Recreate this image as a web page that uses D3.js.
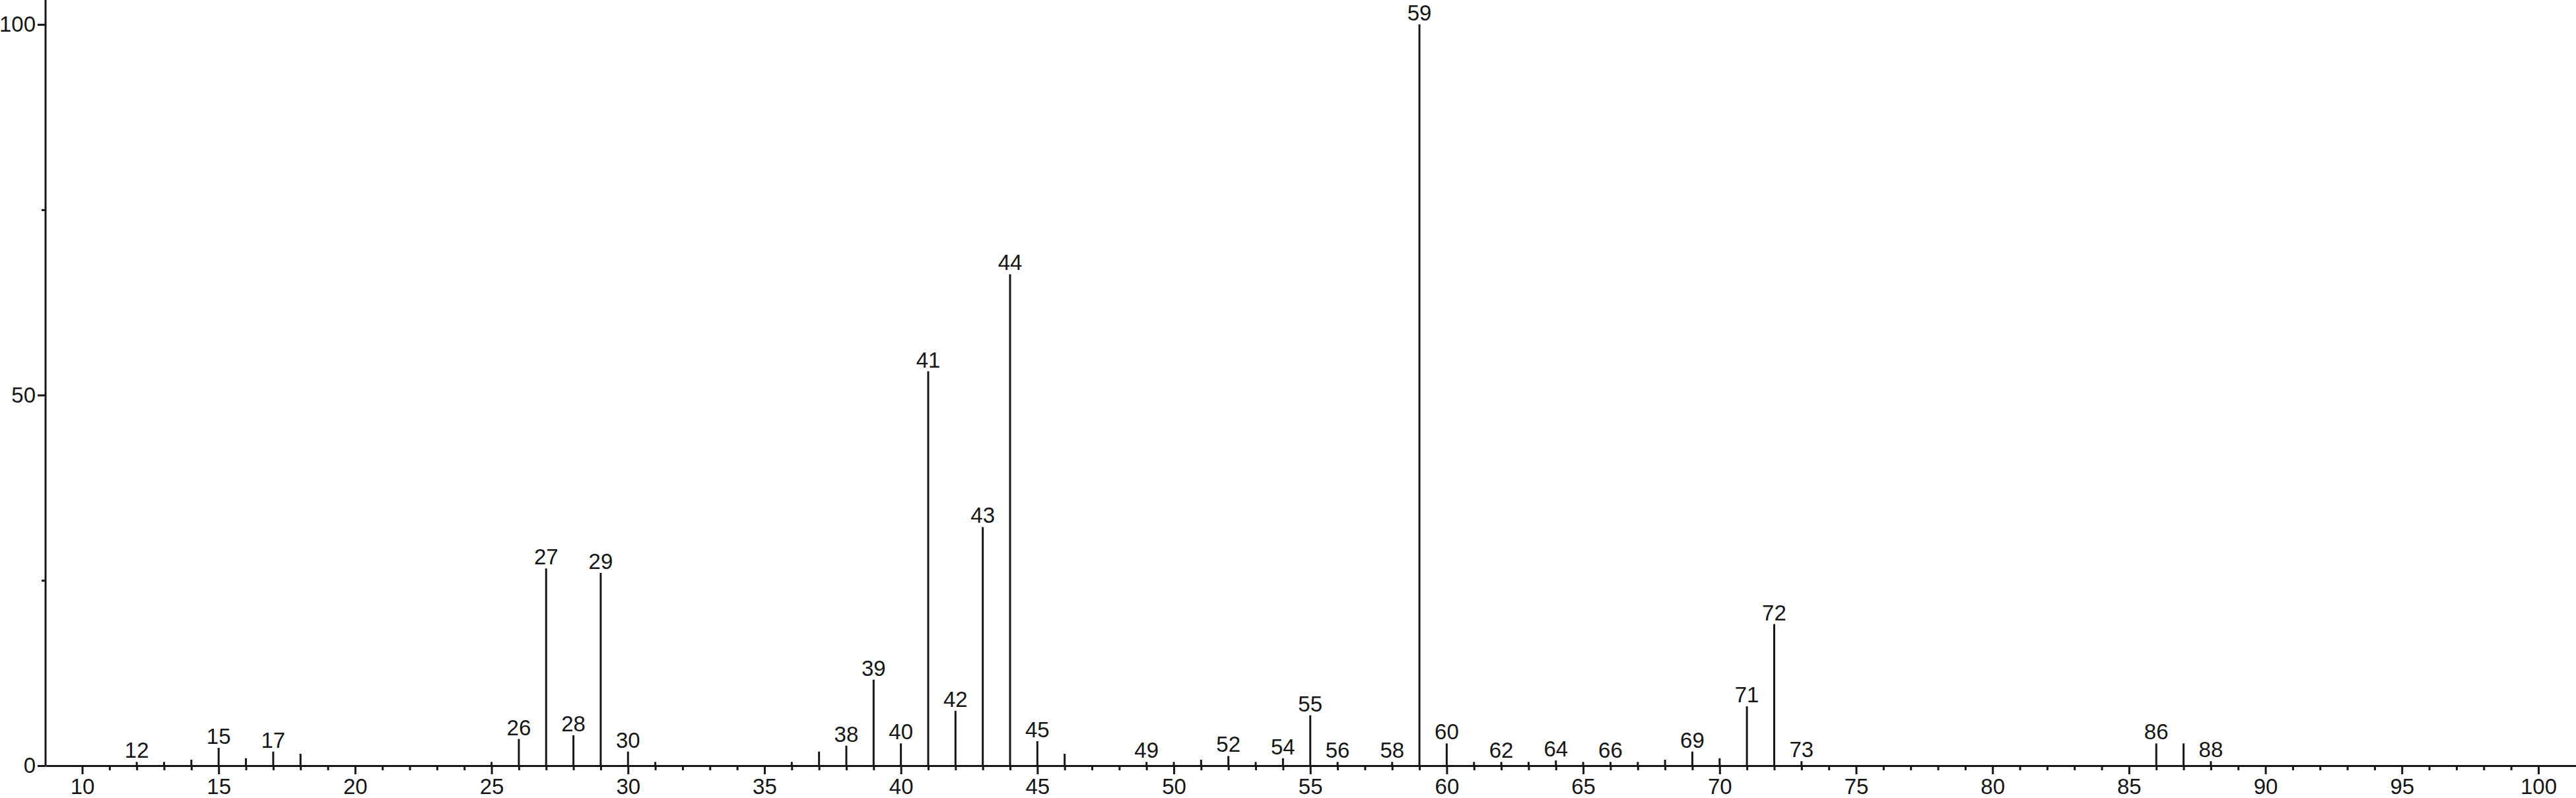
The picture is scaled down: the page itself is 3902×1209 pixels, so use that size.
<!DOCTYPE html>
<html>
<head>
<meta charset="utf-8">
<script src="https://cdn.jsdelivr.net/npm/d3@7"></script>
<style>
  html, body { margin: 0; padding: 0; background: #fff; }
  svg { display: block; }
</style>
</head>
<body>
<svg id="chart" width="3902" height="1209"></svg>
<script>
// m/z values of the peaks
const mz = [12, 13, 14, 15, 16, 17, 18, 25, 26, 27, 28, 29, 30, 31, 36, 37, 38, 39, 40, 41, 42, 43, 44, 45, 46,
            49, 50, 51, 52, 53, 54, 55, 56, 58, 59, 60, 61, 62, 63, 64, 65, 66, 67, 68, 69, 70, 71, 72, 73, 86, 87, 88];
// relative intensities (%)
const intensity = [0.5, 0.5, 0.8, 2.4, 1.0, 1.9, 1.6, 0.5, 3.6, 26.6, 4.1, 26.0, 1.9, 0.5, 0.5, 1.9, 2.7, 11.6, 3.0, 53.2, 7.4, 32.2, 66.3, 3.3, 1.6,
                   0.5, 0.5, 0.8, 1.3, 0.5, 1.0, 6.8, 0.5, 0.5, 100, 3.0, 0.5, 0.5, 0.5, 0.7, 0.5, 0.5, 0.5, 0.8, 1.9, 1.0, 8.0, 19.1, 0.6, 3.0, 3.0, 0.6];
// peaks that carry a text label
const labeledMz = [12, 15, 17, 26, 27, 28, 29, 30, 38, 39, 40, 41, 42, 43, 44, 45, 49, 52, 54, 55, 56, 58, 59, 60,
                   62, 64, 66, 69, 71, 72, 73, 86, 88];
// axis ticks
const xTickValues = d3.range(10, 101);
const xMajorStep = 5;
const yTickValues = [0, 25, 50, 75, 100];
const yTickLabels = ["0", "", "50", "", "100"];

const W = 3902, H = 1209;
const ink = "#161616";
const font = "'Liberation Sans', Arial, Helvetica, sans-serif";
const fontSize = 33;

const svg = d3.select("#chart");
svg.append("rect").attr("width", W).attr("height", H).attr("fill", "#fff");

const x = d3.scaleLinear().domain([8.6575, 101.38]).range([69, 3902]);
const y = d3.scaleLinear().domain([0, 103.3]).range([1160, 0]);

const peaks = mz.map((m, i) => ({ m, v: intensity[i], labeled: labeledMz.includes(m) }));

// peaks
svg.append("g").selectAll("line").data(peaks).join("line")
  .attr("x1", d => x(d.m)).attr("x2", d => x(d.m))
  .attr("y1", y(0)).attr("y2", d => y(d.v))
  .attr("stroke", ink).attr("stroke-width", 3);

// peak labels
svg.append("g").selectAll("text").data(peaks.filter(d => d.labeled)).join("text")
  .attr("x", d => x(d.m))
  .attr("y", d => y(d.v) - 6)
  .attr("text-anchor", "middle")
  .attr("font-family", font).attr("font-size", fontSize).attr("fill", ink)
  .text(d => d.m);

// x axis
const xAxis = d3.axisBottom(x).tickValues(xTickValues).tickSizeOuter(0)
  .tickFormat(d => d % xMajorStep === 0 ? d : "");
const gx = svg.append("g").attr("transform", `translate(0,${y(0)})`).call(xAxis);
gx.select(".domain").attr("stroke", ink).attr("stroke-width", 3);
gx.selectAll(".tick line").attr("stroke", ink).attr("stroke-width", 3)
  .attr("y2", d => d % xMajorStep === 0 ? 13 : 7);
gx.selectAll(".tick text").attr("font-family", font).attr("font-size", fontSize).attr("fill", ink)
  .attr("y", 20).attr("dy", "0.71em");

// y axis
const yAxis = d3.axisLeft(y).tickValues(yTickValues).tickSizeOuter(0)
  .tickFormat((d, i) => yTickLabels[i]);
const gy = svg.append("g").attr("transform", `translate(${x.range()[0]},0)`).call(yAxis);
gy.select(".domain").attr("stroke", ink).attr("stroke-width", 3)
  .attr("d", `M0,${y(0)}V0`);
gy.selectAll(".tick line").attr("stroke", ink).attr("stroke-width", 3)
  .attr("x2", (d, i) => yTickLabels[i] === "" ? -6 : -12);
gy.selectAll(".tick text").attr("font-family", font).attr("font-size", fontSize).attr("fill", ink)
  .attr("x", -15);
</script>
</body>
</html>
